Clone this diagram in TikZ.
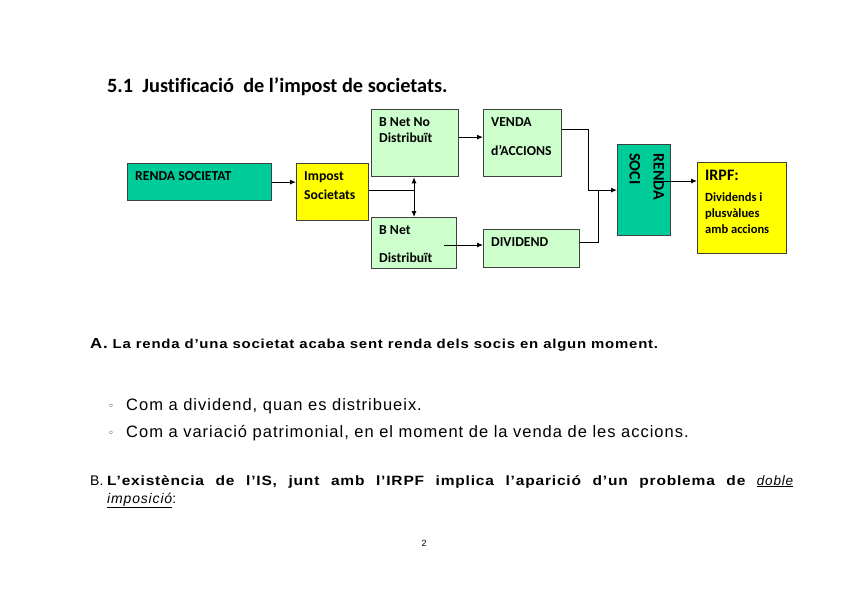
\documentclass[tikz,border=0pt]{standalone}
\usepackage{fontspec}
\setmainfont{Carlito}[Ligatures=NoCommon]
\newfontfamily\bodyfont{Liberation Sans}
\newfontfamily\spacedfont{Liberation Sans}[LetterSpace=6]
\newfontfamily\widefont{Liberation Sans}[LetterSpace=6, FakeStretch=1.15]
\newfontfamily\symfont{DejaVu Sans}
\usetikzlibrary{arrows.meta, positioning, calc}
\definecolor{sociteal}{RGB}{0, 204, 153}
\definecolor{impyellow}{RGB}{255, 255, 0}
\definecolor{netgreen}{RGB}{204, 255, 204}
\definecolor{boxline}{RGB}{64, 64, 64}

\begin{document}
\begin{tikzpicture}[x=1pt, y=-1pt,
  box/.style={draw=boxline, line width=1.3pt, anchor=north west, inner sep=0pt},
  txt/.style={anchor=north west, inner xsep=8pt, inner ysep=8pt, align=left,
    font=\fontsize{13.7}{17}\selectfont\bfseries},
  arr/.style={-{Latex[length=6pt, width=5pt]}, line width=0.9pt},
  body/.style={anchor=base west, inner sep=0pt}]
  \useasboundingbox[fill=white] (0,0) rectangle (848,599);

  % title
  \node[body, font=\fontsize{20.3}{24}\selectfont\bfseries] (title) at (107,93)
    {5.1\ \ Justificació\ \ de l’impost de societats.};

  % boxes
  \node[box, fill=sociteal, minimum width=144, minimum height=37,
    label={[txt]north west:RENDA SOCIETAT}] (rs) at (127,163) {};
  \node[box, fill=impyellow, minimum width=72, minimum height=57,
    label={[txt]north west:Impost\\[2pt]Societats}] (imp) at (296,163) {};
  \node[box, fill=netgreen, minimum width=87, minimum height=67,
    label={[txt]north west:B Net No\\[-1pt]Distribuït}] (bnnd) at (371,109) {};
  \node[box, fill=netgreen, minimum width=85, minimum height=51,
    label={[txt]north west:B Net\\[11pt]Distribuït}] (bnd) at (371,217) {};
  \node[box, fill=netgreen, minimum width=78, minimum height=67,
    label={[txt]north west:VENDA\\[12pt]d’ACCIONS}] (venda) at (483,109) {};
  \node[box, fill=netgreen, minimum width=96, minimum height=38,
    label={[txt]north west:DIVIDEND}] (div) at (483,229) {};
  \node[box, fill=sociteal, minimum width=53, minimum height=91,
    label={[txt, rotate=-90, anchor=north west, inner xsep=9pt, inner ysep=7pt,
      font=\fontsize{16}{24}\selectfont\bfseries]north east:RENDA\\SOCI}] (soci) at (617,144) {};
  \node[box, fill=impyellow, minimum width=89, minimum height=91,
    label={[txt, font=\fontsize{12.5}{16}\selectfont\bfseries]north west:{\fontsize{16}{18}\selectfont IRPF:}\\[5pt]Dividends i\\plusvàlues\\amb accions}] (irpf) at (697,162) {};

  % connectors
  \coordinate (split) at (414,190);
  \coordinate (bndout) at (444,245);
  \coordinate (socout) at (662,181);
  \draw[arr] (rs.east) -- (rs.east -| imp.west);
  \draw[line width=0.9pt] (imp.east |- split) -- (split);
  \draw[arr] (split) -- (split |- bnnd.south);
  \draw[arr] (split) -- (split |- bnd.north);
  \draw[arr] ([yshift=6pt]bnnd.east) -- ([yshift=6pt]venda.west);
  \draw[arr] (bndout) -- (bndout -| div.west);
  \draw[arr] ([yshift=14pt]venda.east) -| ([xshift=-29pt]soci.west) -- (soci.west);
  \draw[line width=0.9pt] ([yshift=6pt]div.east) -| ([xshift=-19pt]soci.west);
  \draw[arr] (socout) -- (socout -| irpf.west);

  % text
  \node[body, font=\widefont\fontsize{13}{15}\selectfont\bfseries] (parta) at (90,348)
    {{\fontsize{14.5}{15}\selectfont A.} La renda d’una societat acaba sent renda dels socis en algun moment.};
  \node[anchor=center, inner sep=0pt, font=\symfont\fontsize{10}{12}\selectfont] (dot1) at (111,407) {◦};
  \node[body, font=\spacedfont\fontsize{16.5}{20}\selectfont] (item1) at (126,410)
    {Com a dividend, quan es distribueix.};
  \node[anchor=center, inner sep=0pt, font=\symfont\fontsize{10}{12}\selectfont] (dot2) at (111,434) {◦};
  \node[body, font=\spacedfont\fontsize{16.5}{20}\selectfont] (item2) at (126,437)
    {Com a variació patrimonial, en el moment de la venda de les accions.};
  \node[body, font=\bodyfont\fontsize{14}{18}\selectfont] (bpre) at (90,485) {B.};
  \node[body, font=\widefont\fontsize{13.5}{18}\selectfont] (bline) at (107,485)
    {\makebox[686pt][s]{\bfseries L’existència de l’IS, junt amb l’IRPF implica l’aparició d’un problema de {\spacedfont\mdseries\itshape\underline{doble}}}};
  \node[body, font=\spacedfont\fontsize{14}{18}\selectfont] (bline2) at (107,503)
    {\underline{\itshape imposició}:};
  \node[anchor=base, inner sep=0pt, font=\bodyfont\fontsize{9}{11}\selectfont] (page) at (424,546) {2};
\end{tikzpicture}
\end{document}
